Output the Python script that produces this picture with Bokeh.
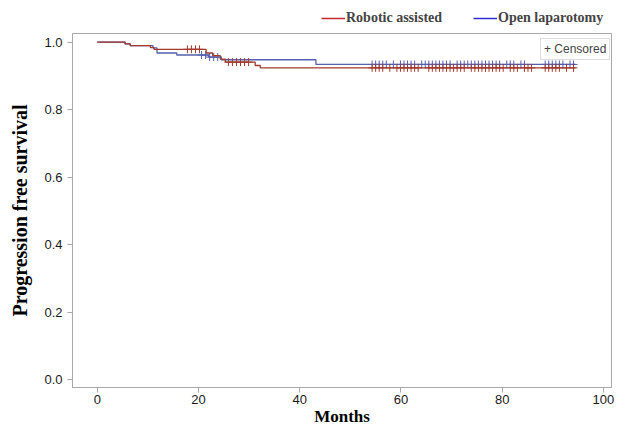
import numpy as np
from bokeh.plotting import figure
from bokeh.layouts import column
from bokeh.models import Range1d, Legend, LegendItem, FixedTicker
from bokeh.embed import file_html
from bokeh.resources import INLINE

# ---- data ----
red_label = "Robotic assisted"
blue_label = "Open laparotomy"

red_time = [0, 5.5, 6.5, 10.5, 11.2, 21.5, 22.8, 24.3, 25.3, 31.2, 32.2, 94.5]
red_surv = [1.0, 0.995, 0.990, 0.984, 0.979, 0.968, 0.960, 0.950, 0.941, 0.931, 0.924, 0.924]

blue_time = [0, 5.5, 6.5, 11.0, 11.8, 15.7, 22.0, 24.5, 43.2, 94.5]
blue_surv = [1.0, 0.995, 0.990, 0.983, 0.968, 0.962, 0.956, 0.948, 0.934, 0.934]

red_censor = [17.8, 18.6, 19.4, 20.2, 25.9, 26.7, 27.5, 28.3, 29.1, 29.9,
              54.3, 55.0, 55.7, 56.4, 57.8, 59.2, 59.9, 60.6, 61.3, 62.0, 62.7, 63.4,
              65.5, 66.2, 66.9, 67.6, 68.3, 69.0, 69.7, 70.4, 71.1, 71.8, 72.5,
              73.9, 74.6, 75.3, 76.0, 76.7, 77.4, 78.1, 78.8, 79.5, 80.2, 81.6,
              82.3, 83.0, 84.4, 85.1, 85.8, 88.5, 89.2, 89.9, 90.6, 91.3, 92.7, 94.1]
blue_censor = [20.6, 21.4, 22.2, 23.0, 23.8,
               54.3, 55.0, 55.7, 56.4, 57.1, 58.5, 59.9, 60.6, 61.3, 62.0, 62.7,
               64.1, 64.8, 65.5, 66.2, 66.9, 67.6, 68.3, 69.0, 69.7, 71.1, 71.8,
               72.5, 73.2, 73.9, 74.6, 75.3, 76.0, 76.7, 77.4, 78.1, 78.8, 79.5,
               80.9, 81.6, 82.3, 83.7, 84.4, 88.5, 89.2, 89.9, 90.6, 91.3, 92.0,
               93.4, 94.1]

x_ticks = [0, 20, 40, 60, 80, 100]
y_ticks = [0.0, 0.2, 0.4, 0.6, 0.8, 1.0]
y_tick_labels = ["0.0", "0.2", "0.4", "0.6", "0.8", "1.0"]


def surv_at(times, surv, t):
    idx = np.searchsorted(np.asarray(times), np.asarray(t), side="right") - 1
    return np.asarray(surv)[idx]


RED = "#A23A2E"
BLUE = "#5560B0"
GRAY = "#a8a8a8"

# ---- top strip holding the series legend (outside the plot frame) ----
top = figure(width=632, height=32, output_backend="svg", toolbar_location=None,
             x_range=Range1d(-4.9, 101.6), y_range=Range1d(5, 6),
             x_axis_type=None, y_axis_type=None,
             min_border_left=0, min_border_right=0, min_border_top=0,
             min_border_bottom=0)
top.outline_line_color = None
top.xgrid.visible = False
top.ygrid.visible = False
top.background_fill_color = "white"
top.border_fill_color = "white"
# same curves, outside this strip's visible range: only their legend swatches show
lr = top.step(red_time, red_surv, mode="after", line_color="#C02A2A", line_width=1.5)
lb = top.step(blue_time, blue_surv, mode="after", line_color="#2E2ED0", line_width=1.5)
leg = Legend(items=[LegendItem(label=red_label, renderers=[lr]),
                    LegendItem(label=blue_label, renderers=[lb])],
             orientation="horizontal", location=(249, 6),
             border_line_color=None, background_fill_alpha=0,
             label_text_font="Liberation Serif", label_text_font_style="bold",
             label_text_font_size="14px", glyph_width=24, glyph_height=14,
             label_height=14, label_standoff=1, spacing=31, padding=0, margin=0)
top.add_layout(leg)

# ---- main plot ----
p = figure(width=632, height=396, output_backend="svg", toolbar_location=None,
           x_range=Range1d(-4.9, 101.6), y_range=Range1d(-0.0237, 1.0258),
           min_border_left=72, min_border_right=21, min_border_top=1,
           min_border_bottom=41)
p.background_fill_color = "white"
p.border_fill_color = "white"
p.outline_line_color = GRAY
p.xgrid.visible = False
p.ygrid.visible = False

p.step(blue_time, blue_surv, mode="after", line_color=BLUE, line_width=1.3)
p.scatter(blue_censor, surv_at(blue_time, blue_surv, blue_censor), marker="cross",
          size=8, line_color=BLUE, line_width=1)
p.step(red_time, red_surv, mode="after", line_color=RED, line_width=1.3)
p.scatter(red_censor, surv_at(red_time, red_surv, red_censor), marker="cross",
          size=8, line_color=RED, line_width=1)

# axes
p.xaxis.ticker = FixedTicker(ticks=x_ticks)
p.yaxis.ticker = FixedTicker(ticks=y_ticks)
p.yaxis.major_label_overrides = {t: l for t, l in zip(y_ticks, y_tick_labels)}
for ax in (p.xaxis[0], p.yaxis[0]):
    ax.axis_line_color = GRAY
    ax.major_tick_line_color = GRAY
    ax.minor_tick_line_color = None
    ax.major_tick_out = 5
    ax.major_tick_in = 0
    ax.major_label_text_font = "Liberation Sans"
    ax.major_label_text_font_size = "13px"
    ax.major_label_text_color = "#1a1a1a"
    ax.major_label_standoff = 5
    ax.axis_label_text_font = "Liberation Serif"
    ax.axis_label_text_font_style = "bold"
    ax.axis_label_text_color = "black"
p.xaxis.axis_label = "Months"
p.xaxis.axis_label_text_font_size = "17px"
p.xaxis.axis_label_standoff = 0
p.xaxis.major_label_standoff = 2
p.yaxis.axis_label = "Progression free survival"
p.yaxis.axis_label_text_font_size = "20px"
p.yaxis.axis_label_standoff = 10

rc = p.line([], [], line_alpha=0)
leg2 = Legend(items=[LegendItem(label="+ Censored", renderers=[rc])],
              location=(468, 327), border_line_color="#bbbbbb",
              background_fill_color="white", background_fill_alpha=1,
              label_text_font="Liberation Sans", label_text_font_size="12px",
              glyph_width=0, glyph_height=12, label_height=12, label_standoff=0,
              padding=3, margin=0)
p.add_layout(leg2)

layout = column(top, p, spacing=0)
open("out.html", "w").write(file_html(layout, INLINE))
